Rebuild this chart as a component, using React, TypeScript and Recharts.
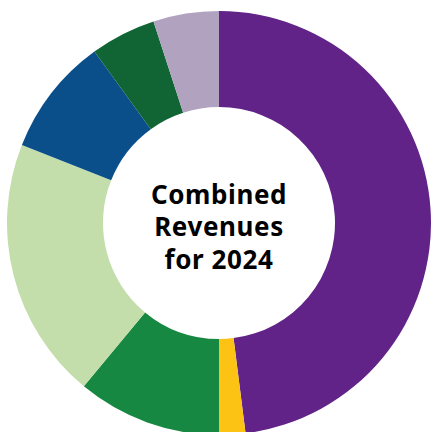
import { Cell, Pie, PieChart } from 'recharts';

const segments = ['Purple', 'Yellow', 'Green', 'Light green', 'Blue', 'Dark green', 'Lavender'];
const shares = [48, 2, 11, 20, 9, 5, 5];
const colors = ['#612388', '#FCC314', '#178841', '#C3DEAB', '#0B4F8A', '#116535', '#B1A2C0'];
const titleLines = ['Combined', 'Revenues', 'for 2024'];

const data = segments.map((name, i) => ({ name, value: shares[i] }));

const CX = 219;
const CY = 223;

function CenterTitle() {
  return (
    <text
      x={CX}
      y={CY}
      textAnchor="middle"
      fontFamily="'Noto Sans', sans-serif"
      fontWeight={700}
      fontSize={26}
      letterSpacing={0.6}
      fill="#000"
    >
      {titleLines.map((line, i) => (
        <tspan key={line} x={CX} y={CY - 19 + i * 32.4}>
          {line}
        </tspan>
      ))}
    </text>
  );
}

export default function App() {
  return (
    <div style={{ position: 'absolute', left: 0, top: 0, width: 431, height: 432, overflow: 'hidden', background: '#fff' }}>
      <PieChart width={431} height={432} margin={{ top: 0, right: 0, bottom: 0, left: 0 }}>
        <Pie
          data={data}
          dataKey="value"
          nameKey="name"
          cx={CX}
          cy={CY}
          innerRadius={116}
          outerRadius={212}
          startAngle={90}
          endAngle={-270}
          stroke="none"
          isAnimationActive={false}
        >
          {data.map((d, i) => (
            <Cell key={d.name} fill={colors[i]} />
          ))}
        </Pie>
        <CenterTitle />
      </PieChart>
    </div>
  );
}
